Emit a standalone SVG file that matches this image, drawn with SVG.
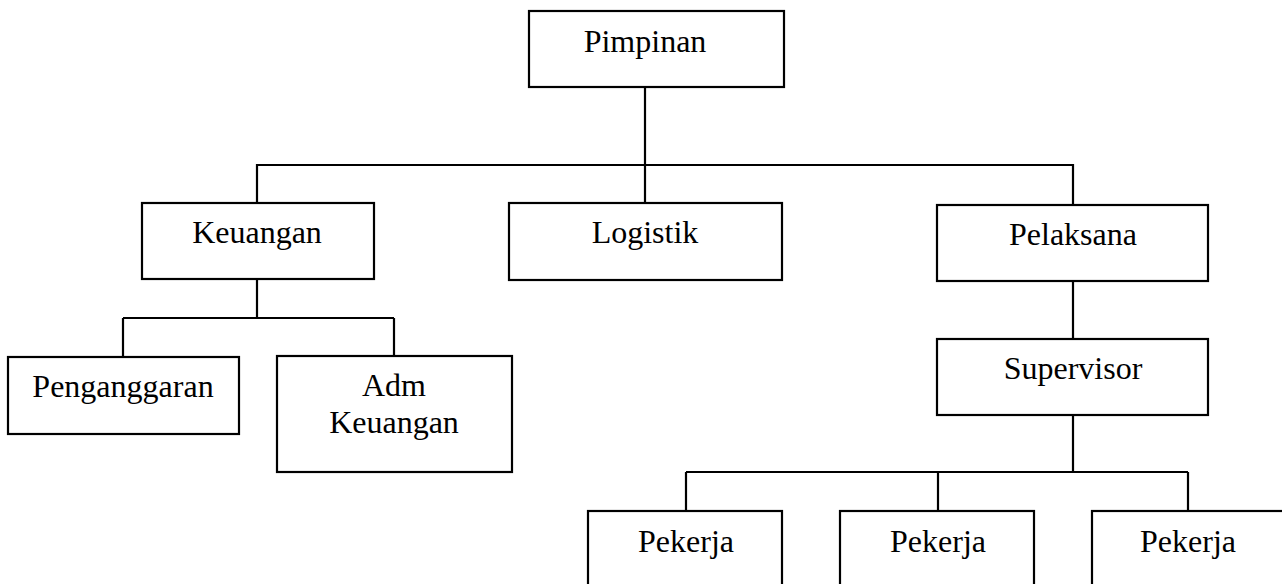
<svg xmlns="http://www.w3.org/2000/svg" width="1282" height="584" viewBox="0 0 1282 584">
<style>
.box{fill:#fff;stroke:#000;stroke-width:2.2}
.t{font-family:"Liberation Serif",serif;font-size:32px;fill:#000;text-anchor:middle}
.c{fill:none;stroke:#000;stroke-width:2.2}
</style>
<rect width="1282" height="584" fill="#fff"/>
<g id="connectors" class="c">
<path d="M645 87V165M257 203V165H1073V205M645 165V203"/>
<path d="M257 279V318M123 318H394M123 318V357M394 318V356"/>
<path d="M1073 281V339M1073 415V472M686 472H1188M686 472V511M938 472V511M1188 472V511"/>
</g>
<g id="pimpinan"><rect class="box" x="529" y="11" width="255" height="76"/><text class="t" x="645" y="52">Pimpinan</text></g>
<g id="keuangan"><rect class="box" x="142" y="203" width="232" height="76"/><text class="t" x="257" y="243">Keuangan</text></g>
<g id="logistik"><rect class="box" x="509" y="203" width="273" height="77"/><text class="t" x="645" y="243">Logistik</text></g>
<g id="pelaksana"><rect class="box" x="937" y="205" width="271" height="76"/><text class="t" x="1073" y="245">Pelaksana</text></g>
<g id="penganggaran"><rect class="box" x="8" y="357" width="231" height="77"/><text class="t" x="123" y="397">Penganggaran</text></g>
<g id="adm-keuangan"><rect class="box" x="277" y="356" width="235" height="116"/><text class="t" x="394" y="396">Adm</text><text class="t" x="394" y="433">Keuangan</text></g>
<g id="supervisor"><rect class="box" x="937" y="339" width="271" height="76"/><text class="t" x="1073" y="379">Supervisor</text></g>
<g id="pekerja1"><rect class="box" x="588" y="511" width="194" height="90"/><text class="t" x="686" y="552">Pekerja</text></g>
<g id="pekerja2"><rect class="box" x="840" y="511" width="194" height="90"/><text class="t" x="938" y="552">Pekerja</text></g>
<g id="pekerja3"><rect class="box" x="1092" y="511" width="200" height="90"/><text class="t" x="1188" y="552">Pekerja</text></g>
</svg>
